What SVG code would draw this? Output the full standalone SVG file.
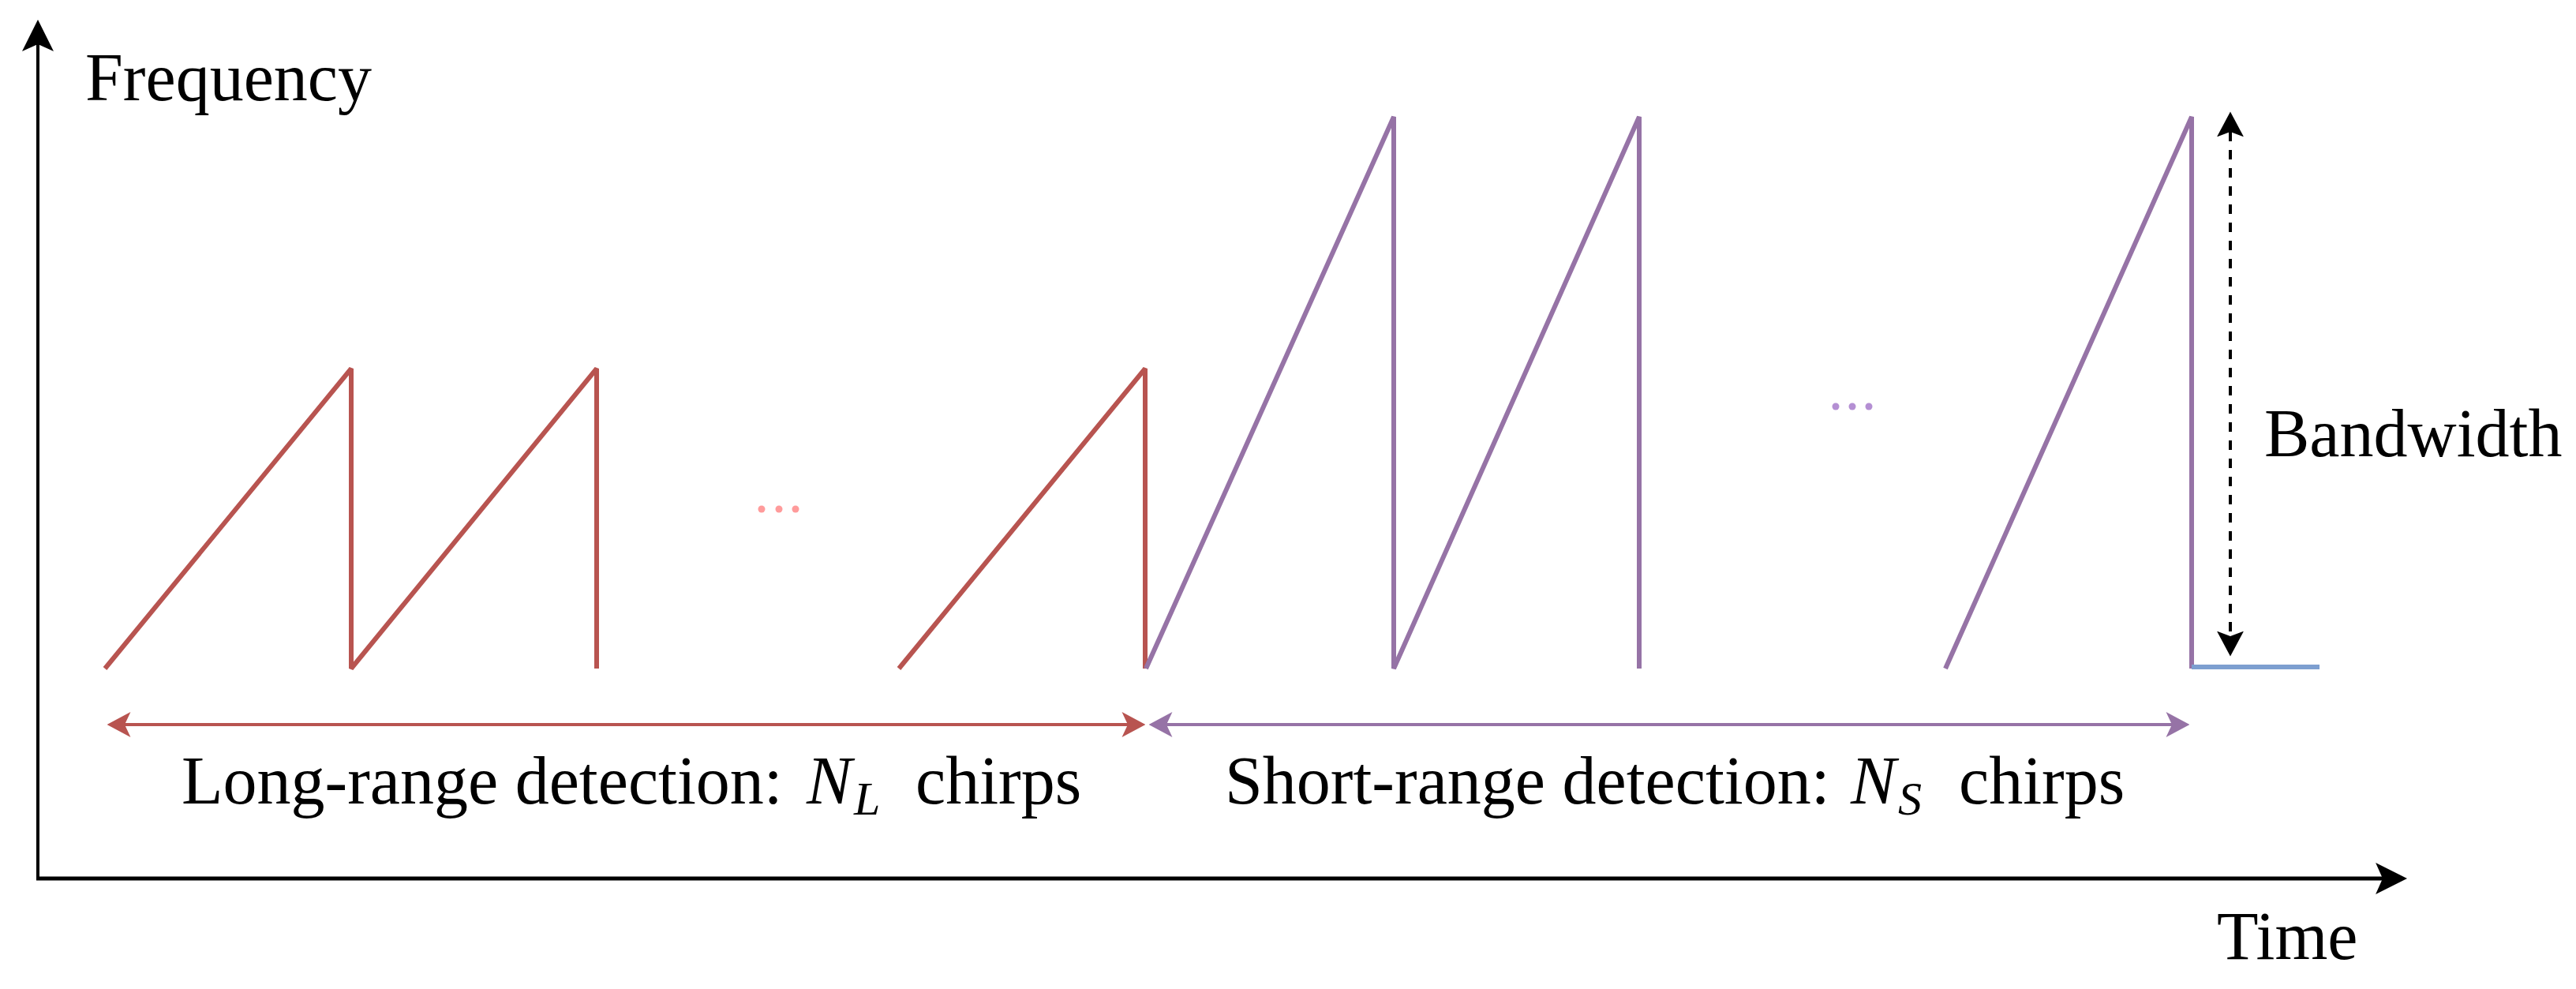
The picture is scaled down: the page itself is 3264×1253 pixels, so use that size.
<svg xmlns="http://www.w3.org/2000/svg" width="3264" height="1253" viewBox="0 0 3264 1253">
<style>
text{font-family:"Liberation Serif","Times New Roman",serif;fill:#000}
.lbl{font-size:86px}
.it{font-style:italic}
.sub{font-size:60px;font-style:italic}
.chirp{fill:none;stroke-width:6;stroke-linejoin:bevel}
.red{stroke:#b85450}
.pur{stroke:#9673a6}
</style>
<defs>
<marker id="axArrow" markerUnits="userSpaceOnUse" markerWidth="40" markerHeight="40" refX="8" refY="18" orient="auto-start-reverse" viewBox="0 0 36 36">
<path d="M0,0 L36,18 L0,36 L8,18 Z" fill="#000"/>
</marker>
<marker id="redArrow" markerUnits="userSpaceOnUse" markerWidth="30" markerHeight="32" refX="7" refY="15" orient="auto-start-reverse" viewBox="0 0 28 30">
<path d="M0,0 L28,15 L0,30 L7,15 Z" fill="#b85450"/>
</marker>
<marker id="purArrow" markerUnits="userSpaceOnUse" markerWidth="30" markerHeight="32" refX="7" refY="15" orient="auto-start-reverse" viewBox="0 0 28 30">
<path d="M0,0 L28,15 L0,30 L7,15 Z" fill="#9673a6"/>
</marker>
<marker id="blkArrow" markerUnits="userSpaceOnUse" markerWidth="32" markerHeight="34" refX="6" refY="16" orient="auto-start-reverse" viewBox="0 0 30 32">
<path d="M0,0 L30,16 L0,32 L6,16 Z" fill="#000"/>
</marker>
</defs>
<rect width="3264" height="1253" fill="#fff"/>

<g id="axes">
<line x1="48" y1="1115" x2="48" y2="56" stroke="#000" stroke-width="4" marker-end="url(#axArrow)"/>
<line x1="46" y1="1113" x2="3019" y2="1113" stroke="#000" stroke-width="5" marker-end="url(#axArrow)"/>
<text class="lbl" x="108" y="127">Frequency</text>
<text class="lbl" x="2809" y="1215">Time</text>
</g>

<g id="long-range-chirps">
<polyline class="chirp red" points="133,847 445,467 445,847 756,467 756,847"/>
<polyline class="chirp red" points="1139,847 1451,467 1451,847"/>
<g fill="#ff9b9b">
<circle cx="965" cy="645" r="4.5"/>
<circle cx="987" cy="645" r="4.5"/>
<circle cx="1008" cy="645" r="4.5"/>
</g>
</g>

<g id="short-range-chirps">
<polyline class="chirp pur" points="1452,847 1766,148 1766,847 2077,148 2077,847"/>
<polyline class="chirp pur" points="2465,847 2777,148 2777,847"/>
<g fill="#b48fd3">
<circle cx="2326" cy="515" r="4.5"/>
<circle cx="2347" cy="515" r="4.5"/>
<circle cx="2368" cy="515" r="4.5"/>
</g>
<line x1="2777" y1="845" x2="2939" y2="845" stroke="#7d9fd0" stroke-width="6"/>
</g>

<g id="bandwidth">
<text class="lbl" x="2869" y="578">Bandwidth</text>
</g>

<g id="connectors">
<line x1="158" y1="918" x2="1429" y2="918" stroke="#b85450" stroke-width="4" marker-start="url(#redArrow)" marker-end="url(#redArrow)"/>
<line x1="1478" y1="918" x2="2752" y2="918" stroke="#9673a6" stroke-width="4" marker-start="url(#purArrow)" marker-end="url(#purArrow)"/>
<line x1="2826" y1="167" x2="2826" y2="806" stroke="#000" stroke-width="4" stroke-dasharray="12 11" marker-start="url(#blkArrow)" marker-end="url(#blkArrow)"/>
</g>

<g id="long-range-label">
<text class="lbl" x="230" y="1018">Long-range detection:</text>
<text class="lbl it" x="1022" y="1018">N</text>
<text class="sub" x="1082" y="1032">L</text>
<text class="lbl" x="1160" y="1018">chirps</text>
</g>
<g id="short-range-label">
<text class="lbl" x="1552" y="1018">Short-range detection:</text>
<text class="lbl it" x="2345" y="1018">N</text>
<text class="sub" x="2405" y="1032">S</text>
<text class="lbl" x="2482" y="1018">chirps</text>
</g>
</svg>
